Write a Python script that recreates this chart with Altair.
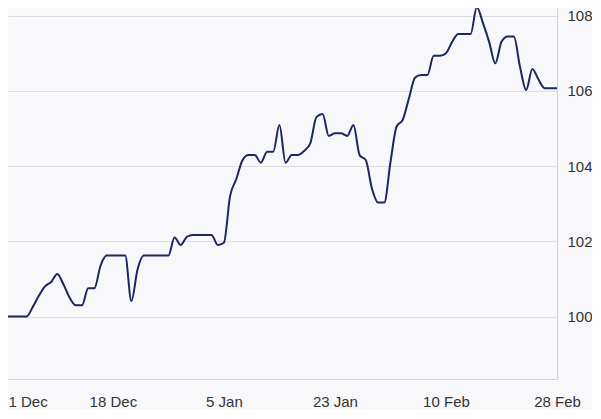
import altair as alt
import pandas as pd

start_date = "2023-12-01"
values = [
    100.0, 100.0, 100.0, 100.0, 100.25, 100.55, 100.8, 100.92, 101.13, 100.85,
    100.5, 100.3, 100.3, 100.75, 100.75, 101.35, 101.62, 101.62, 101.62, 101.62,
    100.41, 101.25, 101.62, 101.62, 101.62, 101.62, 101.62, 102.1, 101.9, 102.12,
    102.17, 102.17, 102.17, 102.17, 101.9, 101.96, 103.2, 103.65, 104.15, 104.29,
    104.29, 104.09, 104.38, 104.38, 105.09, 104.09, 104.29, 104.29, 104.4, 104.6,
    105.3, 105.38, 104.8, 104.87, 104.87, 104.8, 105.09, 104.29, 104.16, 103.4,
    103.03, 103.03, 104.1, 105.05, 105.23, 105.8, 106.35, 106.42, 106.42, 106.93,
    106.93, 107.0, 107.3, 107.51, 107.51, 107.51, 108.22, 107.8, 107.3, 106.73,
    107.3, 107.44, 107.44, 106.64, 106.02, 106.58, 106.3, 106.07, 106.07, 106.07,
]
tick_dates = ["2023-12-01", "2023-12-18", "2024-01-05", "2024-01-23", "2024-02-10", "2024-02-28"]
y_ticks = [100, 102, 104, 106, 108]

dates = pd.date_range(start_date, periods=len(values), freq="D")
df = pd.DataFrame({"date": dates.strftime("%Y-%m-%d"), "value": values})

def dt(s):
    y, m, d = (int(p) for p in s.split("-"))
    return alt.DateTime(year=y, month=m, date=d, utc=True)

first_tick_ms = int(pd.Timestamp(tick_dates[0], tz="UTC").value // 10**6)

chart = alt.Chart(df).mark_line(
    interpolate="monotone", color="#1d2562", strokeWidth=2
).encode(
    x=alt.X(
        "date:T",
        scale=alt.Scale(type="utc", domain=[dt(tick_dates[0]), dt(tick_dates[-1])]),
        axis=alt.Axis(
            title=None,
            values=[dt(s) for s in tick_dates],
            format="%-d %b",
            grid=False,
            ticks=False,
            labelPadding=15,
            labelFlush=False,
            labelAlign={
                "condition": {"test": f"datum.value <= {first_tick_ms}", "value": "left"},
                "value": "center",
            },
            domainColor="#d4d4d8",
        ),
    ),
    y=alt.Y(
        "value:Q",
        scale=alt.Scale(domain=[98.34, 108.2], nice=False, zero=False),
        axis=alt.Axis(
            title=None,
            orient="right",
            values=y_ticks,
            ticks=False,
            labelPadding=10,
            gridColor="#dedee2",
            domainColor="#d4d4d8",
        ),
    ),
).properties(
    width=549,
    height=371,
    background="#f8f8fa",
    padding={"left": 0, "top": 0, "right": 35, "bottom": 31},
    autosize=alt.AutoSizeParams(type="none"),
).configure_view(
    stroke=None
).configure_axis(
    labelFont="Liberation Sans",
    labelFontSize=15,
    labelColor="#333333",
)

chart.save("out.html", embed_options={"renderer": "svg", "actions": False})
